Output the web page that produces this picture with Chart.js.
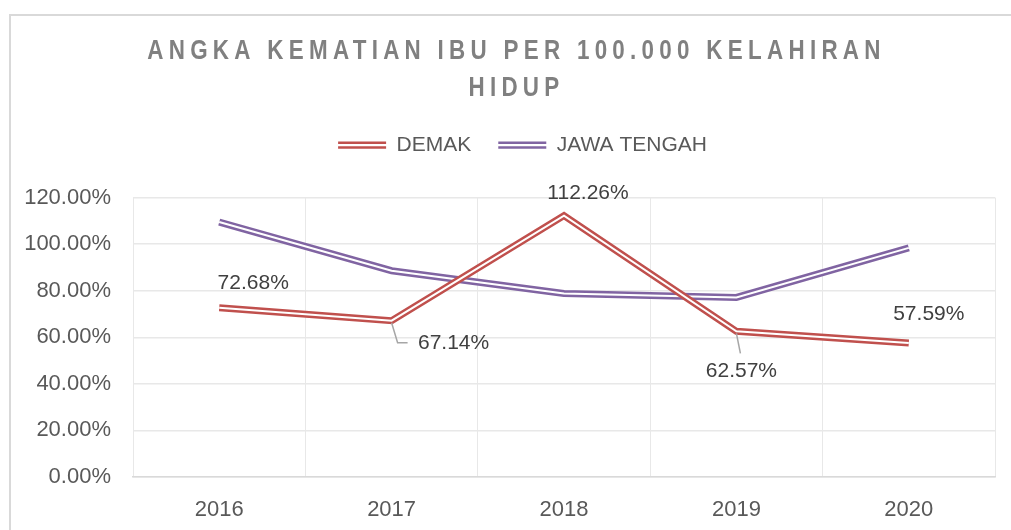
<!DOCTYPE html>
<html lang="id">
<head>
<meta charset="UTF-8">
<title>Angka Kematian Ibu</title>
<script src="https://cdn.jsdelivr.net/npm/chart.js@4.4.0/dist/chart.umd.min.js"></script>
<style>
  body { margin: 0; background: #fff; }
</style>
</head>
<body>
<canvas id="grafik" width="1011" height="530"></canvas>
<script>
// data
const tahun = ['2016', '2017', '2018', '2019', '2020'];
const demak = [72.68, 67.14, 112.26, 62.57, 57.59];
const jawaTengah = [109.5, 88.6, 78.8, 77.1, 98.4];
const namaSeri = ['DEMAK', 'JAWA TENGAH'];
const judul = ['ANGKA KEMATIAN IBU PER 100.000 KELAHIRAN', 'HIDUP'];

const fontUtama = "'Liberation Sans', Arial, sans-serif";

// geser label data relatif ke titiknya (px), plus garis penunjuk
const geserLabel = [[34, -25], [62, 23], [24, -22], [5, 40], [20, -29]];
const penunjuk = [null, [[0, 2], [6, 22], [16, 22]], null, [[0, 2], [4, 22]], null];

// bingkai tipis abu-abu di kiri dan atas
const bingkai = {
    id: 'bingkai',
    beforeDraw(chart) {
        const c = chart.ctx;
        c.save();
        c.fillStyle = '#fff';
        c.fillRect(0, 0, chart.width, chart.height);
        c.strokeStyle = '#d9d9d9';
        c.lineWidth = 2;
        c.beginPath();
        c.moveTo(10, chart.height);
        c.lineTo(10, 15);
        c.lineTo(chart.width, 15);
        c.stroke();
        c.restore();
    }
};

// garis ganda: garis putih tipis di tengah garis tebal
const garisGanda = {
    id: 'garisGanda',
    afterDatasetDraw(chart, args) {
        const pts = args.meta.data;
        const c = chart.ctx;
        c.save();
        c.strokeStyle = '#fff';
        c.lineWidth = 2;
        c.lineJoin = 'miter';
        c.beginPath();
        pts.forEach((p, i) => i ? c.lineTo(p.x, p.y) : c.moveTo(p.x, p.y));
        c.stroke();
        c.restore();
    }
};

// label nilai untuk seri DEMAK
const labelNilai = {
    id: 'labelNilai',
    afterDatasetsDraw(chart) {
        const c = chart.ctx;
        const pts = chart.getDatasetMeta(0).data;
        c.save();
        pts.forEach((p, i) => {
            const g = penunjuk[i];
            if (g) {
                c.strokeStyle = '#a6a6a6';
                c.lineWidth = 1.5;
                c.beginPath();
                g.forEach((q, j) => j ? c.lineTo(p.x + q[0], p.y + q[1]) : c.moveTo(p.x + q[0], p.y + q[1]));
                c.stroke();
            }
            c.font = '21px ' + fontUtama;
            c.fillStyle = '#404040';
            c.textAlign = 'center';
            c.textBaseline = 'middle';
            c.fillText(demak[i].toFixed(2) + '%', p.x + geserLabel[i][0], p.y + geserLabel[i][1]);
        });
        c.restore();
    }
};

// judul dipadatkan + spasi huruf, legenda digeser, contoh garis ganda
const rapikan = {
    id: 'rapikan',
    afterInit(chart) {
        const tb = chart.titleBlock;
        const gambarJudul = tb.draw;
        tb.draw = function () {
            const c = this.ctx;
            const cx = (this.left + this.right) / 2;
            c.save();
            c.translate(cx + 19, 0);
            c.scale(0.8, 1);
            c.translate(-cx, 0);
            c.letterSpacing = '6.6px';
            gambarJudul.call(this);
            c.restore();
        };

        const lg = chart.legend;
        const ukurLegenda = lg.fit;
        lg.fit = function () {
            ukurLegenda.call(this);
            this.height += 32;
        };
        const gambarLegenda = lg.draw;
        lg.draw = function () {
            const c = this.ctx;
            c.save();
            c.translate(25, 0);
            gambarLegenda.call(this);
            (this.legendHitBoxes || []).forEach((hb, i) => {
                const y = hb.top + 10.5;
                c.strokeStyle = chart.data.datasets[i].borderColor;
                c.lineWidth = 2.5;
                [-2.3, 2.3].forEach(d => {
                    c.beginPath();
                    c.moveTo(hb.left, y + d);
                    c.lineTo(hb.left + 48, y + d);
                    c.stroke();
                });
            });
            c.restore();
        };
    }
};

const ctx = document.getElementById('grafik').getContext('2d');
const grafik = new Chart(ctx, {
    type: 'line',
    data: {
        labels: tahun,
        datasets: [{
            label: namaSeri[0],
            data: demak,
            borderColor: '#c0504d',
            backgroundColor: '#c0504d',
            borderWidth: 7,
            borderJoinStyle: 'miter',
            pointRadius: 0,
            tension: 0
        },
        {
            label: namaSeri[1],
            data: jawaTengah,
            borderColor: '#8064a2',
            backgroundColor: '#8064a2',
            borderWidth: 7,
            borderJoinStyle: 'miter',
            pointRadius: 0,
            tension: 0
        }]
    },
    options: {
        responsive: false,
        animation: false,
        layout: {
            padding: { left: 0, right: 16, top: 0, bottom: 0 }
        },
        plugins: {
            tooltip: { enabled: false },
            title: {
                display: true,
                text: judul,
                color: '#808080',
                font: { family: fontUtama, size: 28, weight: 'bold', lineHeight: 1.35 },
                padding: { top: 32, bottom: 0 }
            },
            legend: {
                position: 'top',
                labels: {
                    color: '#595959',
                    font: { family: fontUtama, size: 21 },
                    boxWidth: 48,
                    boxHeight: 4,
                    padding: 27,
                    generateLabels(chart) {
                        return Chart.defaults.plugins.legend.labels.generateLabels(chart).map(l => {
                            l.fillStyle = 'rgba(0,0,0,0)';
                            l.strokeStyle = 'rgba(0,0,0,0)';
                            l.lineWidth = 0;
                            return l;
                        });
                    }
                }
            }
        },
        scales: {
            x: {
                offset: true,
                grid: { offset: true, color: '#e8e8e8', lineWidth: 1, drawTicks: false },
                border: { color: '#d9d9d9', width: 1.5 },
                ticks: { color: '#595959', font: { family: fontUtama, size: 22 }, padding: 20 },
                afterFit(scale) { scale.height = 53; }
            },
            y: {
                min: 0,
                max: 120,
                grid: { color: '#e8e8e8', lineWidth: 1.5, drawTicks: false },
                border: { display: false },
                ticks: {
                    stepSize: 20,
                    color: '#595959',
                    font: { family: fontUtama, size: 22 },
                    padding: 22,
                    callback: v => v.toFixed(2) + '%'
                },
                afterFit(scale) { scale.width = 133; }
            }
        }
    },
    plugins: [bingkai, garisGanda, labelNilai, rapikan]
});
</script>
</body>
</html>
